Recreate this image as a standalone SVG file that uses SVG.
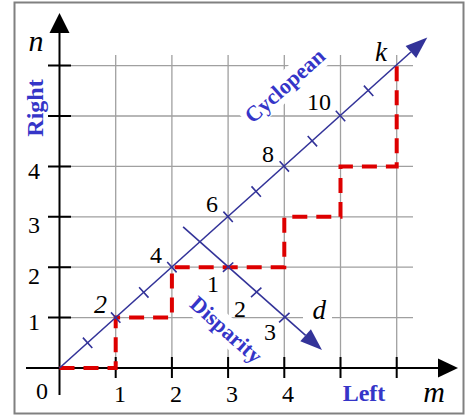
<svg xmlns="http://www.w3.org/2000/svg" width="465" height="418" viewBox="0 0 465 418">
<defs>
<style>
.grid{stroke:#a0a0a0;stroke-width:1.3;fill:none}
.axis{stroke:#000;stroke-width:2;fill:none}
.blue{stroke:#333399;stroke-width:1.6;fill:none}
.red{stroke:#dd0000;stroke-width:4;fill:none;stroke-dasharray:15 9}
.num{font-family:"Liberation Serif","Times New Roman",serif;font-size:24px;fill:#000}
.it{font-family:"Liberation Serif","Times New Roman",serif;font-style:italic;fill:#000}
.lab{font-family:"Liberation Serif","Times New Roman",serif;font-weight:bold;fill:#3535c8}
.bg{fill:#fff;stroke:none}
</style>
</defs>
<rect x="0" y="0" width="465" height="418" fill="#fff"/>
<rect x="14.5" y="2.5" width="449" height="411" fill="none" stroke="#808080" stroke-width="2"/>
<g id="grid">
<path class="grid" d="M115.7,55V368M171.9,55V368M228.1,55V368M284.3,55V368M340.5,55V368M396.7,55V368"/>
<path class="grid" d="M59.5,317.6H413M59.5,267.2H413M59.5,216.8H413M59.5,166.4H413M59.5,116H413M59.5,65.6H413"/>
</g>
<g id="label-backgrounds">
<rect class="bg" x="-53" y="-13" width="106" height="26" transform="translate(285,86) rotate(-41.9)"/>
<rect class="bg" x="-49" y="-13" width="98" height="26" transform="translate(226,330) rotate(41.9)"/>
<rect class="bg" x="303" y="299" width="29" height="23"/>
</g>
<g id="axes">
<path class="axis" d="M26,368H440M59.5,395V31"/>
<polygon points="458,368 438,358.5 438,377.5" fill="#000"/>
<polygon points="59.5,13 49.5,33 69.5,33" fill="#000"/>
<path class="axis" d="M48,317.6H71M48,267.2H71M48,216.8H71M48,166.4H71M48,116H71M48,65.6H71"/>
<path class="axis" d="M115.7,357V378M171.9,357V378M228.1,357V378M284.3,357V378M340.5,357V378M396.7,357V378"/>
</g>
<g id="connectors">
<path id="path-red" class="red" d="M59.5,368H115.7V317.6H171.9V267.2H284.3V216.8H340.5V166.4H396.7V65.6"/>
<g id="cyclopean-axis">
<path class="blue" d="M59.5,368L410.9,52"/>
<polygon points="427.3,37.4 405.6,46 416.2,58" fill="#333399"/>
<path class="blue" d="M82.9,337.6L92.3,348M111,312.4L120.4,322.8M139.1,287.2L148.5,297.6M167.2,262L176.6,272.4M223.4,211.6L232.8,222M251.5,186.4L260.9,196.8M279.6,161.2L289,171.6M307.7,136L317.1,146.4M335.8,110.8L345.2,121.2M363.9,85.6L373.3,96"/>
</g>
<g id="disparity-axis">
<path class="blue" d="M183.1,226.9L305.6,335.3"/>
<polygon points="322,350 300.3,341.3 310.9,329.3" fill="#333399"/>
<path class="blue" d="M222.9,271.9L233.3,262.5M251,297.1L261.4,287.7M279.1,322.3L289.5,312.9"/>
</g>
</g>
<g id="axis-labels">
<text class="it" x="36" y="51" font-size="30" text-anchor="middle">n</text>
<text class="it" x="434" y="402" font-size="30" text-anchor="middle">m</text>
<text class="lab" font-size="24" text-anchor="middle" transform="translate(43,108) rotate(-90)">Right</text>
<text class="lab" x="364" y="401" font-size="24" text-anchor="middle">Left</text>
<text class="num" x="42" y="399" text-anchor="middle">0</text>
<text class="num" x="120" y="402" text-anchor="middle">1</text>
<text class="num" x="176" y="402" text-anchor="middle">2</text>
<text class="num" x="232" y="402" text-anchor="middle">3</text>
<text class="num" x="288" y="402" text-anchor="middle">4</text>
<text class="num" x="34" y="330" text-anchor="middle">1</text>
<text class="num" x="34" y="284" text-anchor="middle">2</text>
<text class="num" x="34" y="233" text-anchor="middle">3</text>
<text class="num" x="34" y="179" text-anchor="middle">4</text>
</g>
<g id="cyclopean-labels">
<text class="lab" font-size="22" text-anchor="middle" transform="translate(285,86) rotate(-41.9)" y="7">Cyclopean</text>
<text class="it" x="107" y="313" font-size="26" text-anchor="end">2</text>
<text class="num" x="162" y="263" text-anchor="end">4</text>
<text class="num" x="218" y="212" text-anchor="end">6</text>
<text class="num" x="274" y="162" text-anchor="end">8</text>
<text class="num" x="331" y="110" text-anchor="end">10</text>
<text class="it" x="387" y="61" font-size="27" text-anchor="end">k</text>
</g>
<g id="disparity-labels">
<text class="lab" font-size="22" text-anchor="middle" transform="translate(226,330) rotate(41.9)" y="7">Disparity</text>
<text class="num" x="219" y="292" text-anchor="end">1</text>
<text class="num" x="246" y="317" text-anchor="end">2</text>
<text class="num" x="276" y="340" text-anchor="end">3</text>
<text class="it" x="326" y="319" font-size="27" text-anchor="end">d</text>
</g>
</svg>
